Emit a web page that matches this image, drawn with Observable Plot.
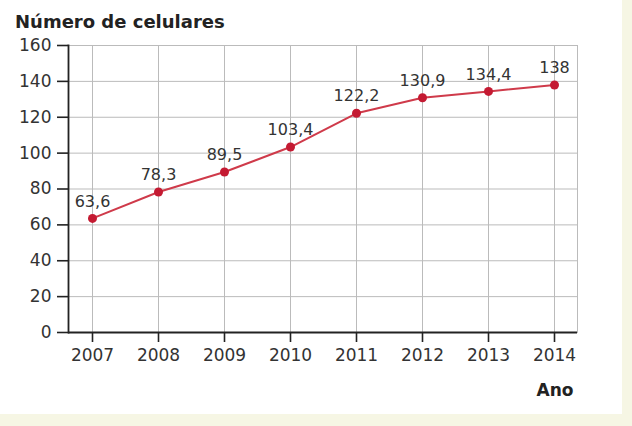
<!DOCTYPE html>
<html>
<head>
<meta charset="utf-8">
<script src="https://cdn.jsdelivr.net/npm/d3@7"></script>
<script src="https://cdn.jsdelivr.net/npm/@observablehq/plot@0.6"></script>
<style>
  html, body { margin: 0; padding: 0; background: #f6f6e4; }
  #panel { position: relative; width: 622px; height: 414px; background: #ffffff; overflow: hidden; }
  #title { padding: 11px 0 0 15px; height: 20px; line-height: 20px; font: bold 18px "DejaVu Sans", sans-serif; color: #222; white-space: nowrap; }
  #chart svg { display: block; }
</style>
</head>
<body>
<div id="panel">
  <div id="title">Número de celulares</div>
  <div id="chart"></div>
</div>
<script>
const years = [2007, 2008, 2009, 2010, 2011, 2012, 2013, 2014];
const phones = [63.6, 78.3, 89.5, 103.4, 122.2, 130.9, 134.4, 138];
const valueLabels = ["63,6", "78,3", "89,5", "103,4", "122,2", "130,9", "134,4", "138"];
const yTicks = [0, 20, 40, 60, 80, 100, 120, 140, 160];
const xLabel = "Ano";

const data = years.map((y, i) => ({year: y, value: phones[i], label: valueLabels[i]}));

const chart = Plot.plot({
  width: 622,
  height: 383,
  marginLeft: 68,
  marginRight: 45,
  marginTop: 14,
  marginBottom: 82,
  style: {fontFamily: "'DejaVu Sans', sans-serif", fontSize: "17px", color: "#333", background: "transparent"},
  x: {type: "point", domain: years, padding: 0.3},
  y: {domain: [0, 160]},
  marks: [
    Plot.frame({stroke: "#bbb"}),
    Plot.gridY(yTicks, {stroke: "#bbb", strokeOpacity: 1}),
    Plot.gridX(years, {stroke: "#bbb", strokeOpacity: 1}),
    Plot.axisY(yTicks, {tickSize: 11, tickPadding: 6, stroke: "#222", strokeWidth: 1.6, label: null, fontSize: 17, fill: "#333"}),
    Plot.axisX(years, {tickSize: 10, tickPadding: 6, stroke: "#222", strokeWidth: 1.6, label: null, fontSize: 17, fill: "#333", tickFormat: d => String(d)}),
    Plot.text([xLabel], {frameAnchor: "bottom-right", dx: -4, dy: 58, lineAnchor: "middle", textAnchor: "end", fontSize: 17, fontWeight: "bold", fill: "#222"}),
    Plot.frame({anchor: "left", stroke: "#222", strokeWidth: 1.8}),
    Plot.ruleY([0], {stroke: "#222", strokeWidth: 2}),
    Plot.line(data, {x: "year", y: "value", stroke: "#cf3a4a", strokeWidth: 2}),
    Plot.dot(data, {x: "year", y: "value", r: 4.5, fill: "#c41a32", stroke: "none"}),
    Plot.text(data, {x: "year", y: "value", text: "label", dy: -17, fontSize: 16, fill: "#333"})
  ]
});
document.getElementById("chart").appendChild(chart);
</script>
</body>
</html>
